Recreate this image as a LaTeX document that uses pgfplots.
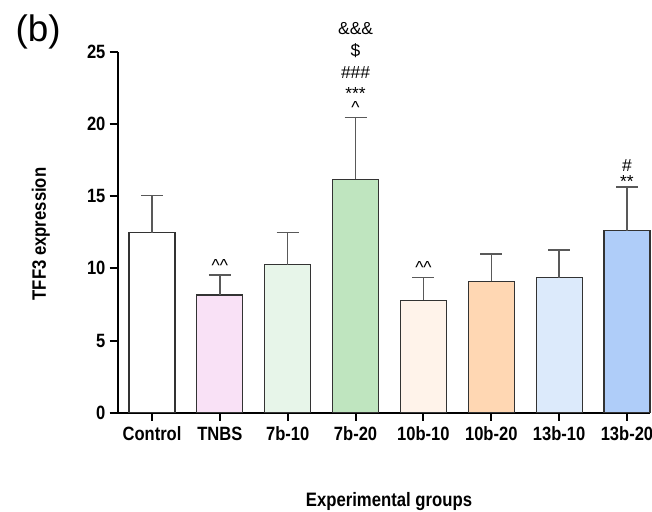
\documentclass[border=0pt]{standalone}
\usepackage{fontspec}
\setmainfont{Liberation Sans}
\newfontfamily\condf{Liberation Sans}[FakeStretch=0.86]
\usepackage{pgfplots}
\pgfplotsset{compat=1.18}
\definecolor{cCtrl}{HTML}{FFFFFF}
\definecolor{cTNBS}{HTML}{F9E1F6}
\definecolor{cSevA}{HTML}{E7F5E9}
\definecolor{cSevB}{HTML}{BFE5BF}
\definecolor{cTenA}{HTML}{FFF3EA}
\definecolor{cTenB}{HTML}{FFD7B3}
\definecolor{cThiA}{HTML}{DCEAFB}
\definecolor{cThiB}{HTML}{AFCDF9}
\pgfplotsset{
  mybar/.style={fill=#1, draw=black!80, line width=1.1bp,
    error bars/.cd, y dir=plus, y explicit,
    error bar style={line width=1.3bp, color=black!65},
    error mark options={rotate=90, line width=1.3bp, color=black!65, mark size=11bp}},
}
\newcommand{\annf}{\fontsize{17.5}{19}\selectfont}
\newcommand{\tickf}{\condf\bfseries\fontsize{19.3}{21}\selectfont}
\newcommand{\labf}{\condf\bfseries\fontsize{19.5}{21}\selectfont}
\begin{document}
\begin{tikzpicture}
\begin{axis}[
  at={(0,0)}, anchor=south west,
  scale only axis, width=532.4bp, height=361bp,
  xmin=-0.507, xmax=7.339, ymin=0, ymax=25,
  axis x line*=bottom, axis y line*=left,
  axis line style={line width=2bp, -},
  xtick={0,...,7},
  xticklabels={Control,TNBS,7b-10,7b-20,10b-10,10b-20,13b-10,13b-20},
  ytick={0,5,...,25},
  tick align=outside, major tick length=8bp,
  tick style={line width=2bp, black},
  /pgf/number format/assume math mode=true,
  xticklabel style={font=\tickf, anchor=base, inner sep=0pt, yshift=-19.3bp},
  yticklabel style={font=\tickf, anchor=east, inner sep=0pt, xshift=-4bp},
  xlabel={Experimental groups},
  ylabel={TFF3 expression},
  xlabel style={font=\labf, at={(axis description cs:0.5098,-0.2604)}, anchor=base},
  ylabel style={font=\labf, at={(axis description cs:-0.1345,0.495)}, anchor=base, rotate=0},
  clip=false,
  ybar, bar width=46bp, bar shift=0pt,
]
\addplot[mybar=cCtrl] coordinates {(0,12.47) +- (0,2.58)};
\addplot[mybar=cTNBS] coordinates {(1,8.15) +- (0,1.39)};
\addplot[mybar=cSevA] coordinates {(2,10.25) +- (0,2.22)};
\addplot[mybar=cSevB] coordinates {(3,16.16) +- (0,4.30)};
\addplot[mybar=cTenA] coordinates {(4,7.80) +- (0,1.58)};
\addplot[mybar=cTenB] coordinates {(5,9.10) +- (0,1.90)};
\addplot[mybar=cThiA] coordinates {(6,9.35) +- (0,1.92)};
\addplot[mybar=cThiB] coordinates {(7,12.60) +- (0,3.03)};
\node[font=\annf, anchor=base] at (axis cs:1,9.81) {\textasciicircum\textasciicircum};
\node[font=\annf, anchor=base] at (axis cs:4,9.65) {\textasciicircum\textasciicircum};
\node[font=\annf, anchor=base] at (axis cs:3,20.71) {\textasciicircum};
\node[font=\annf, anchor=base] at (axis cs:3,21.69) {***};
\node[font=\annf, anchor=base] at (axis cs:3,23.11) {\#\#\#};
\node[font=\annf, anchor=base] at (axis cs:3,24.65) {\$};
\node[font=\annf, anchor=base] at (axis cs:3,26.18) {\&\&\&};
\node[font=\annf, anchor=base] at (axis cs:7,15.58) {**};
\node[font=\annf, anchor=base] at (axis cs:7,16.72) {\#};
\end{axis}
\node[font=\fontsize{37}{39}\selectfont, anchor=base west] at (-105.6bp,371bp) {(b)};
\pgfresetboundingbox
\useasboundingbox (-117.6bp,-99.3bp) rectangle (534.4bp,412.7bp);
\end{tikzpicture}
\end{document}
